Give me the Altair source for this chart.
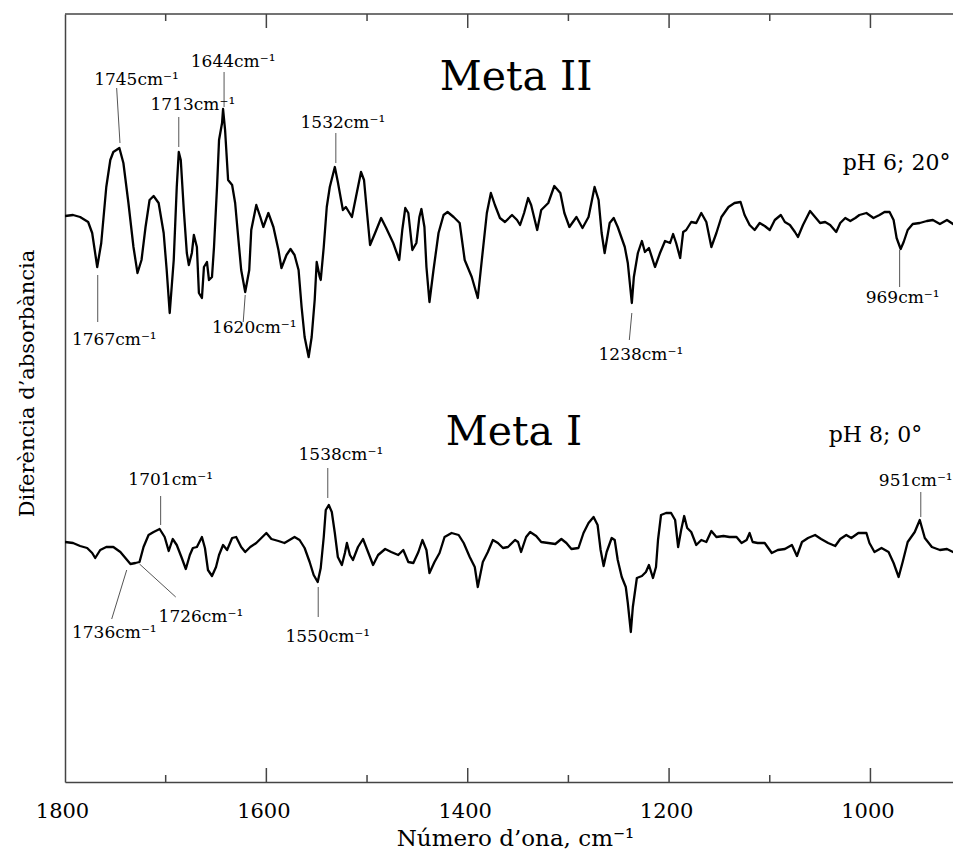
import altair as alt
import pandas as pd

# ---- spectra: (wavenumber cm-1, difference absorbance, arbitrary units)
meta2 = [(1800,-3),(1792,-2),(1785,-4),(1777,-9),(1773,-20),(1768,-54),(1764,-30),(1759,26),(1755,53),(1752,61),(1746,65),(1742,50),(1737,10),(1732,-34),(1728,-60),(1724,-47),(1720,-14),(1716,13),(1712,17),(1707,10),(1702,-20),(1699,-57),(1696,-100),(1692,-47),(1689,26),(1687,61),(1685,53),(1682,3),(1679,-40),(1677,-52),(1674,-40),(1672,-22),(1669,-34),(1667,-80),(1664,-85),(1662,-54),(1659,-49),(1657,-67),(1654,-64),(1652,-34),(1649,26),(1647,73),(1644,90),(1643,104),(1641,83),(1638,33),(1634,28),(1631,10),(1628,-24),(1625,-57),(1621,-79),(1617,-57),(1615,-17),(1610,8),(1606,-4),(1603,-14),(1598,0),(1593,-14),(1588,-37),(1585,-55),(1580,-42),(1576,-36),(1572,-42),(1568,-57),(1565,-94),(1562,-124),(1558,-144),(1555,-124),(1552,-87),(1550,-49),(1547,-64),(1546,-67),(1543,-34),(1540,6),(1537,26),(1532,46),(1529,31),(1524,3),(1521,6),(1515,-4),(1511,16),(1506,41),(1503,33),(1500,0),(1497,-32),(1492,-20),(1486,-5),(1481,-15),(1474,-30),(1468,-47),(1465,-17),(1462,5),(1459,0),(1455,-37),(1451,-30),(1448,-4),(1446,4),(1443,-14),(1441,-54),(1438,-89),(1434,-57),(1429,-20),(1424,-2),(1420,1),(1414,-4),(1408,-10),(1403,-47),(1396,-64),(1390,-85),(1386,-47),(1381,0),(1377,20),(1373,8),(1368,-5),(1363,-9),(1356,-2),(1351,-7),(1348,-12),(1344,0),(1340,15),(1337,8),(1331,-17),(1327,3),(1320,10),(1314,27),(1308,20),(1304,0),(1299,-14),(1292,-4),(1286,-15),(1280,-4),(1274,26),(1270,13),(1267,-20),(1264,-40),(1259,-10),(1255,-5),(1251,-14),(1244,-34),(1241,-50),(1237,-90),(1235,-64),(1231,-40),(1227,-28),(1224,-39),(1220,-35),(1214,-54),(1209,-40),(1204,-28),(1199,-30),(1196,-21),(1193,-30),(1189,-45),(1186,-19),(1183,-17),(1178,-9),(1173,-10),(1168,0),(1163,-9),(1158,-34),(1153,-20),(1148,-4),(1141,6),(1135,10),(1129,11),(1125,-2),(1120,-12),(1115,-17),(1110,-10),(1105,-13),(1100,-17),(1095,-7),(1089,-2),(1085,-9),(1080,-12),(1075,-19),(1072,-24),(1067,-12),(1060,2),(1055,-4),(1050,-10),(1045,-9),(1040,-12),(1034,-19),(1030,-10),(1025,-5),(1020,-8),(1015,-5),(1011,-2),(1004,0),(997,-5),(991,-2),(986,1),(981,1),(977,-7),(974,-25),(970,-36),(967,-29),(963,-17),(958,-11),(951,-10),(944,-8),(938,-7),(931,-11),(924,-7),(918,-11),(911,-9)]

meta1 = [(1800,1),(1792,0),(1785,-3),(1778,-5),(1773,-10),(1770,-15),(1765,-7),(1759,-4),(1752,-4),(1745,-9),(1740,-15),(1735,-21),(1730,-20),(1726,-19),(1722,-4),(1717,8),(1712,11),(1706,14),(1701,6),(1697,-8),(1693,4),(1689,-2),(1684,-15),(1680,-26),(1676,-12),(1673,-5),(1669,-4),(1664,6),(1661,-5),(1658,-27),(1654,-33),(1650,-24),(1647,-12),(1643,-2),(1639,-7),(1634,5),(1630,6),(1625,-4),(1621,-9),(1616,-4),(1610,0),(1605,5),(1600,10),(1595,4),(1588,2),(1582,0),(1577,3),(1572,6),(1567,3),(1562,-5),(1557,-19),(1553,-32),(1549,-39),(1546,-25),(1543,6),(1541,33),(1538,38),(1535,31),(1532,10),(1529,-14),(1525,-22),(1522,-10),(1520,0),(1517,-12),(1514,-17),(1509,-4),(1504,4),(1499,-9),(1494,-22),(1489,-12),(1482,-6),(1476,-9),(1469,-12),(1464,-7),(1459,-19),(1454,-20),(1449,-9),(1445,3),(1441,-7),(1438,-30),(1433,-19),(1428,-10),(1423,6),(1416,10),(1409,8),(1404,0),(1398,-14),(1393,-24),(1390,-44),(1385,-19),(1380,-9),(1375,3),(1370,0),(1365,-5),(1360,-4),(1353,3),(1350,1),(1347,-9),(1342,6),(1338,11),(1332,7),(1327,1),(1320,0),(1313,-1),(1307,4),(1302,0),(1297,-6),(1290,-5),(1285,10),(1280,20),(1275,26),(1271,18),(1268,-7),(1265,-23),(1262,-9),(1257,5),(1254,3),(1251,-17),(1247,-34),(1243,-44),(1241,-60),(1238,-89),(1236,-64),(1232,-35),(1227,-33),(1223,-29),(1220,-22),(1216,-35),(1213,-24),(1211,3),(1208,28),(1203,30),(1198,30),(1194,23),(1191,-4),(1188,13),(1185,27),(1182,15),(1178,11),(1173,-2),(1168,3),(1163,1),(1158,12),(1153,6),(1146,7),(1140,6),(1133,6),(1128,0),(1123,3),(1120,10),(1117,1),(1112,0),(1105,0),(1098,-10),(1092,-7),(1085,-6),(1078,-2),(1073,-13),(1068,1),(1062,5),(1055,8),(1049,4),(1042,0),(1035,-3),(1030,4),(1024,8),(1019,5),(1012,10),(1004,10),(1001,0),(996,-9),(989,-5),(982,-9),(977,-20),(972,-34),(968,-19),(963,1),(956,11),(951,23),(946,5),(939,-4),(931,-7),(924,-6),(918,-9),(911,-9)]

# vertical stacking offsets of the two traces
offsets = {"Meta II": 569, "Meta I": 239}

# peak labels: text, label position, leader line
ann_labels = ["1745cm⁻¹", "1644cm⁻¹", "1713cm⁻¹", "1532cm⁻¹", "1767cm⁻¹", "1620cm⁻¹", "1238cm⁻¹", "969cm⁻¹",
              "1701cm⁻¹", "1538cm⁻¹", "1736cm⁻¹", "1726cm⁻¹", "1550cm⁻¹", "951cm⁻¹"]
ann_x = [1729, 1633, 1673, 1524, 1751, 1612, 1228, 968, 1695, 1526, 1751, 1665, 1539, 955]
ann_y = [697, 715, 672, 654, 437, 449, 422, 479, 297, 322, 144, 160, 140, 296]
lead_x1 = [1748.7, 1642, 1687, 1531, 1767.5, 1621, 1237, 971, 1705, 1539, 1738.7, 1726, 1548.5, 950]
lead_y1 = [694, 710, 665, 649, 507, 487, 469, 532, 286, 314, 212, 218, 195, 290]
lead_x2 = [1745.4, 1642, 1687, 1531, 1767.5, 1623, 1239.5, 971, 1705, 1539, 1753.6, 1690, 1548.5, 950]
lead_y2 = [639, 675, 635, 619, 460, 460, 442, 495, 257, 284, 163, 185, 165, 265]

# panel titles
title_text = ["Meta II", "Meta I", "pH 6; 20°", "pH 8; 0°"]
title_x = [1352, 1354, 974, 995]
title_y = [692, 337, 612, 340]
title_size = [41, 41, 22, 22]

major_ticks = [1600, 1400, 1200, 1000]
minor_ticks = [1700, 1500, 1300, 1100]
label_values = [1800, 1600, 1400, 1200, 1000]

# ---- tables
rows = []
for name, pts in (("Meta II", meta2), ("Meta I", meta1)):
    for wn, v in pts:
        rows.append({"series": name, "wn": wn, "y": v + offsets[name]})
spec = pd.DataFrame(rows)

ann = pd.DataFrame({"label": ann_labels + title_text,
                    "wn": ann_x + title_x,
                    "y": ann_y + title_y,
                    "fs": [17] * len(ann_labels) + title_size})
leads = pd.DataFrame({"wn": lead_x1, "y": lead_y1, "wn2": lead_x2, "y2": lead_y2})

W, H = 888, 768
FONT = "DejaVu Serif"
AX = "#444444"

xscale = alt.Scale(domain=[1800, 918], nice=False, zero=False)
yscale = alt.Scale(domain=[0, 768], nice=False, zero=False)

xaxis = alt.Axis(values=label_values, ticks=False, grid=False, domainColor=AX, domainWidth=1.5,
                 labelFont=FONT, labelFontSize=21, labelColor="black", labelPadding=18,
                 labelFlush=False, labelOffset=-3, format="d",
                 title="Número d’ona, cm⁻¹", titleFont=FONT, titleFontSize=23,
                 titleFontWeight="normal", titleColor="black",
                 titleBaseline="alphabetic", titleY=63, titleX=450)
yaxis = alt.Axis(ticks=False, labels=False, grid=False, domainColor=AX, domainWidth=1.5,
                 title="Diferència d’absorbància", titleFont=FONT, titleFontSize=21,
                 titleFontWeight="normal", titleColor="black",
                 titleBaseline="alphabetic", titleX=-32, titleY=369)

X = alt.X("wn:Q", scale=xscale, axis=xaxis)
Y = alt.Y("y:Q", scale=yscale, axis=yaxis)

lines = alt.Chart(spec).mark_line(color="black", strokeWidth=2.3, clip=True,
                                  strokeJoin="round").encode(x=X, y=Y, detail="series:N")

leaders = alt.Chart(leads).mark_rule(color="#555555", strokeWidth=1).encode(
    x=X, y=Y, x2="wn2:Q", y2="y2:Q")

texts = alt.Chart(ann).mark_text(font=FONT, color="black", align="center",
                                 baseline="alphabetic").encode(
    x=X, y=Y, text="label:N", size=alt.Size("fs:Q", scale=None, legend=None))


def tick_layer(vals, y0, y1):
    return alt.Chart(pd.DataFrame({"wn": vals})).mark_rule(color=AX, strokeWidth=1.5).encode(
        x=X, y=alt.value(y0), y2=alt.value(y1))


ticks = [tick_layer(major_ticks, 0, 14), tick_layer(minor_ticks, 0, 7),
         tick_layer(major_ticks, H - 14, H), tick_layer(minor_ticks, H - 7, H)]

top_line = alt.Chart(pd.DataFrame({"a": [0]})).mark_rule(color=AX, strokeWidth=1.5).encode(
    x=alt.value(0), x2=alt.value(W), y=alt.value(0))

chart = alt.layer(lines, leaders, texts, *ticks, top_line).properties(
    width=W, height=H,
    padding={"left": 57, "top": 6, "right": 0, "bottom": 68},
    autosize=alt.AutoSizeParams(type="none"),
).configure_view(stroke=None)

chart.save("out.html", embed_options={"renderer": "svg", "actions": False})
